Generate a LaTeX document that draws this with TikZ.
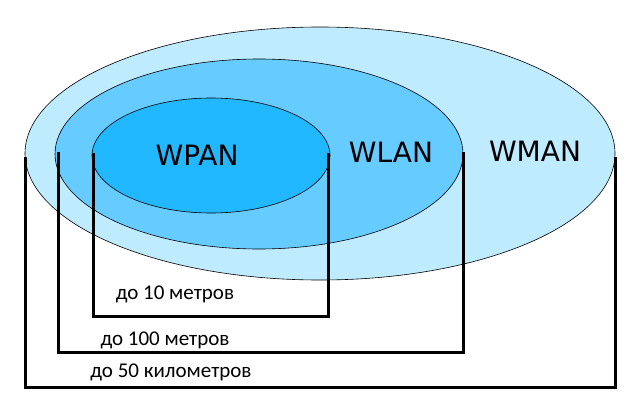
\documentclass[tikz,border=0pt]{standalone}
\usepackage{fontspec}
\setmainfont{Carlito}
\newfontfamily\netfont{DejaVu Sans}
\usetikzlibrary{shapes.geometric}

\definecolor{manblue}{HTML}{BFEBFF}
\definecolor{lanblue}{HTML}{66CCFF}
\definecolor{panblue}{HTML}{22B8FF}

\tikzset{
  zone/.style={draw, ellipse, inner sep=0pt, line width=.6pt},
  netname/.style={font=\netfont\fontsize{28}{32}\selectfont},
  rangetext/.style={font=\fontsize{21}{24}\selectfont},
  bracket/.style={line width=3pt, line join=miter}
}

\begin{document}
\begin{tikzpicture}[x=1pt,y=-1pt]
  \useasboundingbox (0,0) rectangle (636,404);

  % zones
  \node[zone, fill=manblue, minimum width=590, minimum height=253] (wman) at (320,153.5) {};
  \node[zone, fill=lanblue, minimum width=408, minimum height=190] (wlan) at (259,154) {};
  \node[zone, fill=panblue, minimum width=238, minimum height=115] (wpan) at (211,155.5) {};

  \node[netname] (tpan) at (197,155) {WPAN};
  \node[netname] (tlan) at (391,152) {WLAN};
  \node[netname] (tman) at (535,151) {WMAN};

  % brackets
  \path (93,153) coordinate (p1); \path (93,316) coordinate (p2);
  \path (328,316) coordinate (p3); \path (328,153) coordinate (p4);
  \draw[bracket] (p1) -- (p2) -- (p3) -- (p4);

  \path (58,152) coordinate (l1); \path (58,352) coordinate (l2);
  \path (463,352) coordinate (l3); \path (463,152) coordinate (l4);
  \draw[bracket] (l1) -- (l2) -- (l3) -- (l4);

  \path (25,157) coordinate (m1); \path (25,387) coordinate (m2);
  \path (615,387) coordinate (m3); \path (615,157) coordinate (m4);
  \draw[bracket] (m1) -- (m2) -- (m3) -- (m4);

  \node[rangetext] (rpan) at (175,294) {до 10 метров};
  \node[rangetext] (rlan) at (165,340) {до 100 метров};
  \node[rangetext] (rman) at (171,372) {до 50 километров};

\end{tikzpicture}
\end{document}
